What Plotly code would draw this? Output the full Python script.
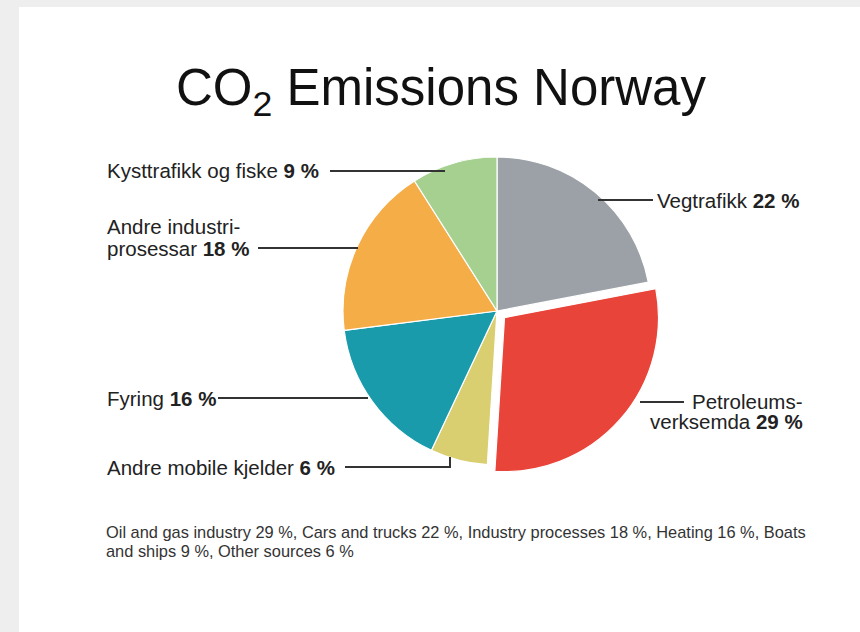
import plotly.graph_objects as go

# ---- data ----
categories = ["Vegtrafikk", "Petroleumsverksemda", "Andre mobile kjelder",
              "Fyring", "Andre industriprosessar", "Kysttrafikk og fiske"]
shares = [22, 29, 6, 16, 18, 9]
english_names = ["Cars and trucks", "Oil and gas industry", "Other sources",
                 "Heating", "Industry processes", "Boats and ships"]
caption_order = [1, 0, 4, 3, 5, 2]

# ---- styles ----
colors = ["#9ba1a6", "#e9443a", "#d9cf70", "#1a9bab", "#f5ad47", "#a5d08f"]
pulls = [0, 0.065, 0, 0, 0, 0]

W, H = 860, 632
FONT = "Liberation Sans, Arial, sans-serif"


def fx(x):
    return x / W


def fy(y):
    return 1 - y / H


# pie placement (pixels)
cx, cy, r = 497, 311, 154
half = r * (1 + max(pulls))

fig = go.Figure()
fig.add_trace(go.Pie(
    labels=categories,
    values=shares,
    sort=False,
    direction="clockwise",
    rotation=0,
    pull=pulls,
    textinfo="none",
    hoverinfo="label+percent",
    marker=dict(colors=colors, line=dict(color="white", width=1.2)),
    domain=dict(x=[fx(cx - half), fx(cx + half)], y=[fy(cy + half), fy(cy - half)]),
    showlegend=False,
))

# label layout: (category index, text lines [(text, y)], text x, xanchor, leader line points)
label_layout = [
    (5, [(None, 170)], 105, "left", [(330, 171), (445, 171)]),
    (4, [("Andre industri-", 226), (None, 248)], 105, "left", [(258, 248), (358, 248)]),
    (3, [(None, 398)], 105, "left", [(218, 398), (368, 398)]),
    (2, [(None, 468)], 105, "left", [(345, 467), (450, 467), (450, 457)]),
    (0, [(None, 200)], 655, "left", [(598, 200), (653, 200)]),
    (1, [("Petroleums-", 401), (None, 421)], 805, "right", [(640, 402), (684, 402)]),
]
final_text = {
    5: "Kysttrafikk og fiske",
    4: "prosessar",
    3: "Fyring",
    2: "Andre mobile kjelder",
    0: "Vegtrafikk",
    1: "verksemda",
}

annotations = []
shapes = [dict(type="rect", xref="paper", yref="paper", x0=fx(19), x1=1.0, y0=0, y1=fy(7),
               fillcolor="white", line=dict(width=0), layer="below")]

for idx, lines, tx, xa, pts in label_layout:
    for txt, ty in lines:
        if txt is None:
            txt = f"{final_text[idx]} <b>{shares[idx]} %</b>"
        annotations.append(dict(
            text=txt, x=fx(tx), y=fy(ty), xref="paper", yref="paper",
            xanchor=xa, yanchor="middle", showarrow=False,
            font=dict(family=FONT, size=20.5, color="#222222"),
        ))
    path = "M " + " L ".join(f"{fx(px)},{fy(py)}" for px, py in pts)
    shapes.append(dict(type="path", xref="paper", yref="paper", path=path,
                       line=dict(color="#333333", width=2)))

# title
annotations.append(dict(
    text="CO<sub>2</sub> Emissions Norway", x=fx(441), y=fy(91), xref="paper", yref="paper",
    xanchor="center", yanchor="middle", showarrow=False,
    font=dict(family=FONT, size=51, color="#111111"),
))

# caption
parts = [f"{english_names[i]} {shares[i]} %" for i in caption_order]
line1 = ", ".join(parts[:4]) + ", Boats"
line2 = "and ships 9 %, " + parts[5]
for t, yy in [(line1, 532), (line2, 551)]:
    annotations.append(dict(
        text=t, x=fx(104), y=fy(yy), xref="paper", yref="paper",
        xanchor="left", yanchor="middle", showarrow=False,
        font=dict(family=FONT, size=16.4, color="#333333"),
    ))

fig.update_layout(
    width=W, height=H,
    margin=dict(l=0, r=0, t=0, b=0),
    paper_bgcolor="#eeeeee",
    plot_bgcolor="white",
    annotations=annotations,
    shapes=shapes,
)

fig.write_html("out.html", config={"displayModeBar": False},
               post_script="document.body.style.margin='0';")
